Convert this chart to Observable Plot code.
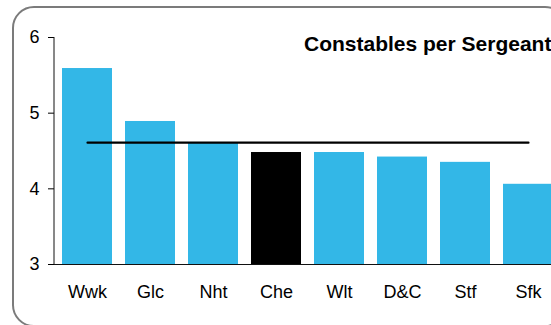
<!DOCTYPE html>
<html><head><meta charset="utf-8">
<script src="https://cdn.jsdelivr.net/npm/d3@7"></script>
<script src="https://cdn.jsdelivr.net/npm/@observablehq/plot@0.6"></script>
<style>
html,body{margin:0;padding:0;background:#fff;overflow:hidden;width:551px;height:325px;}
#wrap{position:relative;width:551px;height:325px;overflow:hidden;}
#chart{position:absolute;left:0;top:0;}
#frame{position:absolute;left:12px;top:6px;width:555px;height:321px;box-sizing:border-box;border:2px solid #7b7b7b;border-radius:22px;pointer-events:none;}
#title{position:absolute;left:304px;top:33px;font:bold 21px/21px "Liberation Sans",Arial,sans-serif;white-space:nowrap;color:#000;}
</style></head><body>
<div id="wrap"><div id="chart"></div><div id="frame"></div><div id="title">Constables per Sergeant</div></div>
<script>
const categories = ["Wwk","Glc","Nht","Che","Wlt","D&C","Stf","Sfk"];
const values = [5.59, 4.89, 4.60, 4.48, 4.48, 4.42, 4.35, 4.06];
const average = [4.61, 4.61, 4.61, 4.61, 4.61, 4.61, 4.61, 4.61];
const highlight = "Che";
const yTicks = [3, 4, 5, 6];
const baseColor = "#33b7e7";
const highlightColor = "#000000";

const rows = categories.map((name, i) => ({name, value: values[i], fill: name === highlight ? highlightColor : baseColor}));
const avgRows = categories.map((name, i) => ({name, avg: average[i]}));

const yAxisLine = (index, scales, values, dims) => {
  const g = d3.create("svg:g");
  g.append("line")
    .attr("x1", dims.marginLeft).attr("x2", dims.marginLeft)
    .attr("y1", scales.y(yTicks[yTicks.length - 1])).attr("y2", scales.y(yTicks[0]))
    .attr("stroke", "#111").attr("stroke-width", 1);
  return g.node();
};

const chart = Plot.plot({
  width: 551, height: 325,
  marginLeft: 54, marginRight: 0, marginTop: 37, marginBottom: 61,
  style: {background: "none", fontFamily: "'Liberation Sans', Arial, sans-serif", fontSize: "18px", color: "#000"},
  x: {type: "band", domain: categories, range: [54, 560.5], paddingInner: 0.2, paddingOuter: 0.111, align: 0.5, label: null},
  y: {domain: [3, 6], label: null},
  color: {type: "identity"},
  marks: [
    Plot.barY(rows, {x: "name", y1: 3, y2: "value", fill: "fill"}),
    Plot.ruleY([3], {stroke: "#111"}),
    Plot.lineY(avgRows, {x: "name", y: "avg", stroke: "#000", strokeWidth: 2.2}),
    Plot.axisY({ticks: yTicks, tickSize: 6, tickPadding: 9, tickFormat: d => String(d), label: null}),
    Plot.axisX({tickSize: 0, tickPadding: 21, label: null}),
    yAxisLine
  ]
});
document.getElementById("chart").appendChild(chart);
</script>
</body></html>
